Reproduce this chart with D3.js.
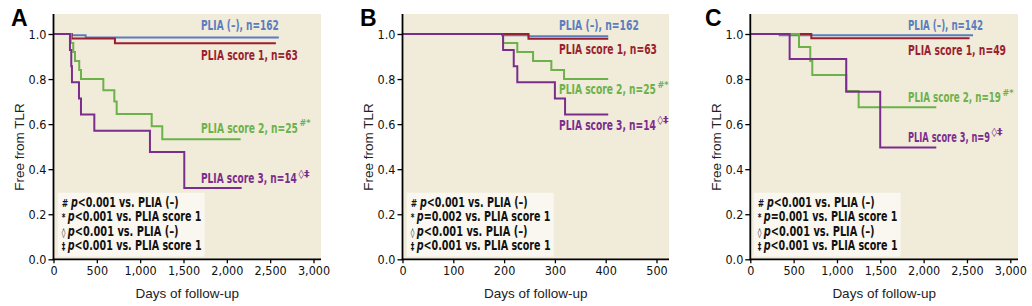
<!DOCTYPE html>
<html><head><meta charset="utf-8">
<script src="https://cdn.jsdelivr.net/npm/d3@7"></script>
<style>
body{margin:0;background:#fff}
svg{display:block}
</style></head><body>
<svg id="c" width="1032" height="306"></svg>
<script>
// ---------------- DATA ----------------
const panelLetters = ["A", "B", "C"];
const xTicksLong = [0, 500, 1000, 1500, 2000, 2500, 3000];
const xTicksShort = [0, 100, 200, 300, 400, 500];
const yTicks = [0, 0.2, 0.4, 0.6, 0.8, 1.0];

const namesA = ["PLIA (–), n=162", "PLIA score 1, n=63", "PLIA score 2, n=25", "PLIA score 3, n=14"];
const namesB = ["PLIA (–), n=162", "PLIA score 1, n=63", "PLIA score 2, n=25", "PLIA score 3, n=14"];
const namesC = ["PLIA (–), n=142", "PLIA score 1, n=49", "PLIA score 2, n=19", "PLIA score 3, n=9"];
const superscripts = ["", "", "#*", "◊‡"];

// Kaplan–Meier step points [day, survival]
const A_neg = [[0,1],[210,0.995],[371,0.985],[2600,0.985]];
const A_s1  = [[0,1],[210,0.98],[709,0.959],[2566,0.959]];
const A_s2  = [[0,1],[200,0.96],[228,0.92],[248,0.88],[297,0.84],[317,0.80],[575,0.75],[702,0.70],[729,0.645],[1133,0.59],[1255,0.533],[2159,0.533]];
const A_s3  = [[0,1],[190,0.929],[205,0.857],[213,0.786],[294,0.714],[317,0.643],[471,0.571],[1113,0.476],[1509,0.317],[2171,0.317]];

const B_neg = [[0,1],[196,0.994],[248,0.99],[405,0.99]];
const B_s1  = [[0,1],[248,0.979],[405,0.979]];
const B_s2  = [[0,1],[198,0.96],[226,0.92],[257,0.88],[293,0.84],[318,0.80],[405,0.80]];
const B_s3  = [[0,1],[198,0.929],[219,0.857],[226,0.786],[300,0.714],[320,0.643],[405,0.643]];

const C_neg = [[0,1],[339,0.994],[2570,0.994]];
const C_s1  = [[0,1],[704,0.981],[2530,0.981]];
const C_s2  = [[0,1],[562,0.942],[692,0.88],[715,0.818],[1107,0.747],[1250,0.675],[2146,0.675]];
const C_s3  = [[0,1],[454,0.889],[1107,0.744],[1499,0.496],[2146,0.496]];

const pSymbols = ["#", "*", "◊", "‡"];
const pVs = ["PLIA (–)", "PLIA score 1", "PLIA (–)", "PLIA score 1"];
const pValsA = ["<0.001", "<0.001", "<0.001", "<0.001"];
const pValsB = ["<0.001", "=0.002", "<0.001", "<0.001"];
const pValsC = ["<0.001", "=0.001", "<0.001", "<0.001"];

// ---------------- LAYOUT / STYLE ----------------
const colors = ["#5b7dbf", "#9a1f30", "#6cb24b", "#7b2d8d"];
const bg = "#f1ebd9", boxBg = "#f9f7ef";
const narrow = "'Liberation Sans Narrow','Arial Narrow','DejaVu Sans Condensed',sans-serif";
const regular = "'Liberation Sans',Arial,sans-serif";

const panels = [
  { letter: panelLetters[0], series: [A_neg, A_s1, A_s2, A_s3], names: namesA, pv: pValsA, ticks: xTicksLong,
    left: 53.5, tickEndPx: 313.5, right: 321, lx: 201, ly: [25, 55, 128, 178.3], lw: [78, 97, 97, 96], box: 4.2, letterX: 11 },
  { letter: panelLetters[1], series: [B_neg, B_s1, B_s2, B_s3], names: namesB, pv: pValsB, ticks: xTicksShort,
    left: 402.5, tickEndPx: 656.5, right: 669, lx: 559, ly: [25, 49.3, 89.3, 125], lw: [80, 98, 97, 97], box: 4.2, letterX: 360 },
  { letter: panelLetters[2], series: [C_neg, C_s1, C_s2, C_s3], names: namesC, pv: pValsC, ticks: xTicksLong,
    left: 750.3, tickEndPx: 1010.3, right: 1018, lx: 908, ly: [25, 50, 97.3, 136.7], lw: [75, 98, 93, 82], box: 3.4, letterX: 705 }
];

const plotTop = 14, y0px = 259.3, y1px = 34;
const svg = d3.select("#c");

// place text at (x,y) and squeeze it horizontally to a target width (condensed look)
function fitText(sel, x, y, target) {
  const w = sel.node().getComputedTextLength();
  const sx = w > 0 ? target / w : 1;
  sel.attr("transform", `translate(${x},${y}) scale(${sx},1)`);
}

panels.forEach(p => {
  const x = d3.scaleLinear().domain([0, p.ticks[p.ticks.length - 1]]).range([p.left, p.tickEndPx]);
  const y = d3.scaleLinear().domain([0, 1]).range([y0px, y1px]);
  const g = svg.append("g");

  // background
  g.append("rect").attr("x", p.left).attr("y", plotTop).attr("width", p.right - p.left).attr("height", y0px - plotTop).attr("fill", bg);

  // curves
  const line = d3.line().x(d => x(d[0])).y(d => y(d[1])).curve(d3.curveStepAfter);
  p.series.forEach((s, i) => {
    g.append("path").attr("d", line(s)).attr("fill", "none").attr("stroke", colors[i]).attr("stroke-width", 2);
  });

  // series labels
  p.names.forEach((n, i) => {
    const t = g.append("text").attr("dy", "0.36em")
      .attr("font-family", narrow).attr("font-weight", "bold").attr("font-size", 14)
      .attr("fill", colors[i]).text(n);
    fitText(t, p.lx, p.ly[i], p.lw[i]);
    if (superscripts[i]) {
      const s = g.append("text").attr("dy", "0.36em")
        .attr("font-family", narrow).attr("font-weight", "bold").attr("font-size", 9)
        .attr("fill", colors[i]).text(superscripts[i]);
      fitText(s, p.lx + p.lw[i] + 1.5, p.ly[i] - 5, 11);
    }
  });

  // p-value box
  const bx = p.left + p.box, by = 192.7, bw = 147, bh = 63.8;
  g.append("rect").attr("x", bx).attr("y", by).attr("width", bw).attr("height", bh).attr("fill", boxBg);
  pSymbols.forEach((sym, i) => {
    const t = g.append("text")
      .attr("font-family", narrow).attr("font-weight", "bold").attr("font-size", 13.5).attr("fill", "#111");
    t.append("tspan").attr("font-size", sym === "#" ? 11 : 10).text(sym + " ");
    t.append("tspan").attr("font-style", "italic").text("p");
    t.append("tspan").text(p.pv[i] + " vs. " + pVs[i]);
    fitText(t, bx + 4, 206.5 + i * 14.5, i % 2 ? 140 : 117);
  });

  // axes
  const ya = d3.axisLeft(y).tickValues(yTicks).tickSize(5).tickPadding(2).tickFormat(d3.format(".1f"));
  const yg = g.append("g").attr("transform", `translate(${p.left},0)`).call(ya);
  yg.select(".domain").remove();
  const xa = d3.axisBottom(x).tickValues(p.ticks).tickSize(4).tickPadding(3).tickFormat(d3.format(","));
  const xg = g.append("g").attr("transform", `translate(0,${y0px})`).call(xa);
  xg.select(".domain").remove();
  [yg, xg].forEach(a => {
    a.selectAll("text").attr("font-family", narrow).attr("font-size", 12.5).attr("fill", "#111");
    a.selectAll("line").attr("stroke", "#000").attr("stroke-width", 1.3);
  });
  g.append("line").attr("x1", p.left).attr("x2", p.left).attr("y1", plotTop).attr("y2", y0px + 0.8).attr("stroke", "#000").attr("stroke-width", 1.8);
  g.append("line").attr("x1", p.left - 0.8).attr("x2", p.right).attr("y1", y0px).attr("y2", y0px).attr("stroke", "#000").attr("stroke-width", 1.8);

  // axis titles
  g.append("text").attr("transform", `translate(${p.left - 34},${147}) rotate(-90)`).attr("text-anchor", "middle")
    .attr("dy", "0.35em").attr("font-family", regular).attr("font-size", 13.5).attr("fill", "#222").text("Free from TLR");
  g.append("text").attr("x", (p.left + p.right) / 2).attr("y", 297.5).attr("text-anchor", "middle")
    .attr("font-family", regular).attr("font-size", 13.5).attr("fill", "#222").text("Days of follow-up");

  // panel letter
  g.append("text").attr("x", p.letterX).attr("y", 26).attr("font-family", regular).attr("font-weight", "bold")
    .attr("font-size", 23).attr("fill", "#000").text(p.letter);
});
</script>
</body></html>
